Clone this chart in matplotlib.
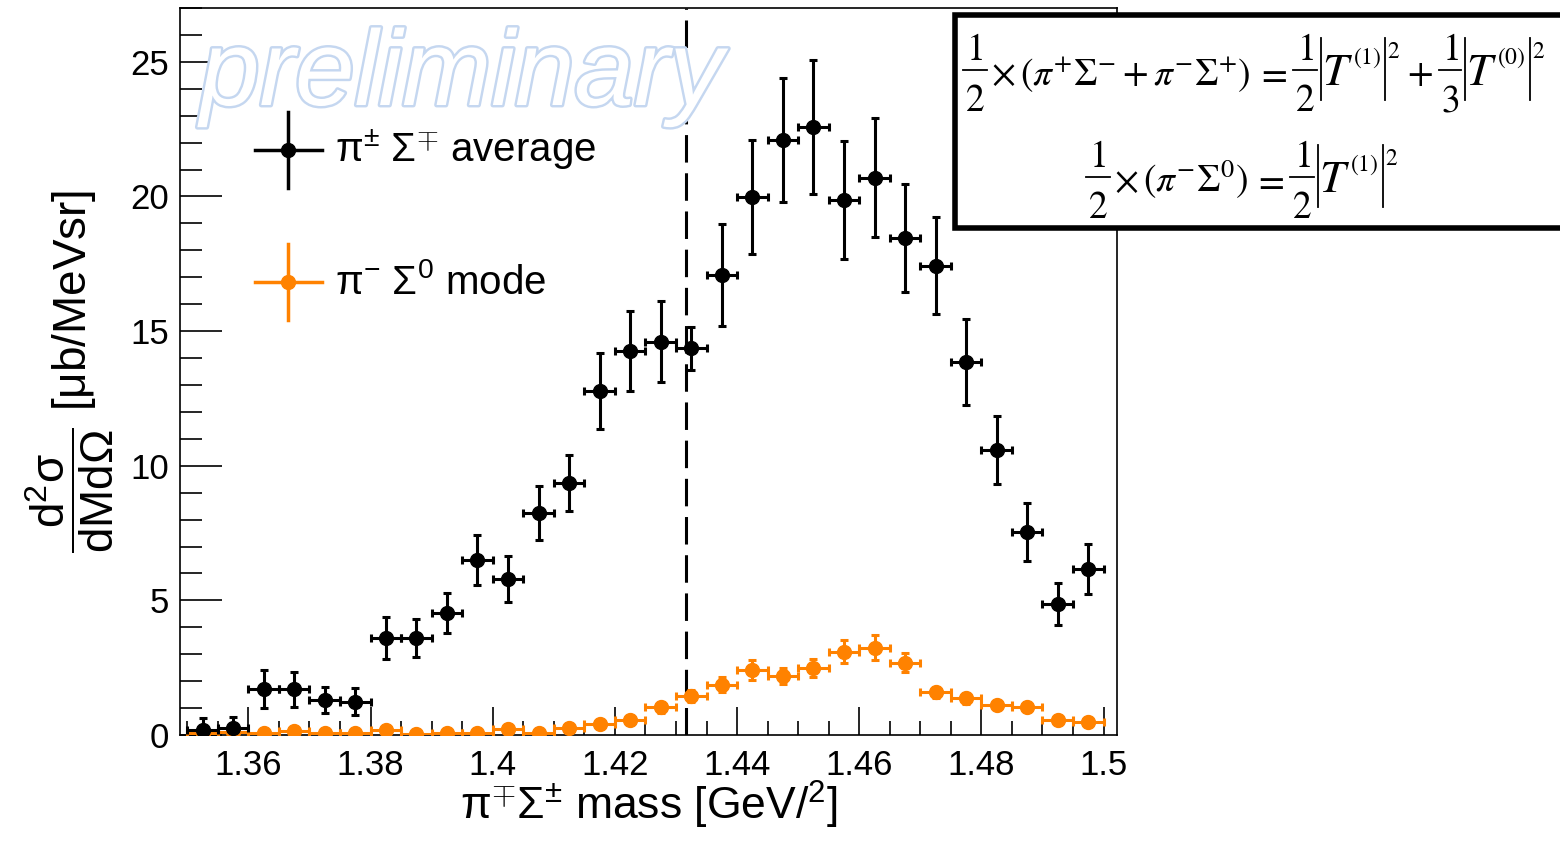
import matplotlib
matplotlib.use("Agg")
import matplotlib.pyplot as plt
import matplotlib.patheffects as pe
from matplotlib.patches import Rectangle
from matplotlib.ticker import MultipleLocator

plt.rcParams['font.family'] = ['Liberation Sans', 'DejaVu Sans']
plt.rcParams['mathtext.fontset'] = 'custom'
plt.rcParams['mathtext.rm'] = 'Liberation Sans'
plt.rcParams['mathtext.it'] = 'Liberation Sans:italic'
plt.rcParams['mathtext.bf'] = 'Liberation Sans:bold'

# ---- data ----
bin_centers = [1.3525, 1.3575, 1.3625, 1.3675, 1.3725, 1.3775, 1.3825, 1.3875, 1.3925, 1.3975,
               1.4025, 1.4075, 1.4125, 1.4175, 1.4225, 1.4275, 1.4325, 1.4375, 1.4425, 1.4475,
               1.4525, 1.4575, 1.4625, 1.4675, 1.4725, 1.4775, 1.4825, 1.4875, 1.4925, 1.4975]
bin_half_width = 0.0025

avg_values = [0.19, 0.25, 1.71, 1.70, 1.30, 1.24, 3.60, 3.60, 4.52, 6.50,
              5.80, 8.26, 9.36, 12.78, 14.26, 14.60, 14.37, 17.08, 19.98, 22.10,
              22.58, 19.87, 20.70, 18.46, 17.42, 13.86, 10.59, 7.55, 4.86, 6.15]
avg_errors = [0.45, 0.40, 0.70, 0.65, 0.50, 0.50, 0.78, 0.70, 0.75, 0.93,
              0.85, 1.00, 1.05, 1.40, 1.50, 1.50, 0.80, 1.90, 2.10, 2.30,
              2.50, 2.20, 2.20, 2.00, 1.80, 1.60, 1.25, 1.08, 0.78, 0.93]

s0_values = [0.07, 0.12, 0.07, 0.16, 0.07, 0.07, 0.19, 0.02, 0.07, 0.07,
             0.24, 0.09, 0.25, 0.41, 0.56, 1.03, 1.46, 1.86, 2.41, 2.20,
             2.50, 3.09, 3.24, 2.69, 1.59, 1.36, 1.11, 1.05, 0.56, 0.49]
s0_errors = [0.08, 0.08, 0.08, 0.08, 0.08, 0.08, 0.10, 0.08, 0.08, 0.08,
             0.12, 0.10, 0.12, 0.14, 0.16, 0.20, 0.22, 0.28, 0.37, 0.30,
             0.33, 0.43, 0.47, 0.35, 0.20, 0.20, 0.16, 0.16, 0.12, 0.10]

threshold = 1.4317

x_range = (1.3488, 1.5022)
y_range = (0, 27)
x_ticks = [1.36, 1.38, 1.40, 1.42, 1.44, 1.46, 1.48, 1.50]
x_tick_labels = ['1.36', '1.38', '1.4', '1.42', '1.44', '1.46', '1.48', '1.5']
y_ticks = [0, 5, 10, 15, 20, 25]

legend_labels = [r'$\mathrm{\pi^{\pm}\ \Sigma^{\mp}}$ average', r'$\mathrm{\pi^{-}\ \Sigma^{0}}$ mode']
ORANGE = '#ff8200'

fig = plt.figure(figsize=(15.6, 8.43), dpi=100)
W, H = 1560, 843
ax = fig.add_axes([180 / W, 108 / H, 937 / W, 727 / H])

xerr = [bin_half_width] * len(bin_centers)
ax.errorbar(bin_centers, s0_values, yerr=s0_errors, xerr=xerr, fmt='o', color=ORANGE,
            ms=10, elinewidth=2.2, capsize=3, capthick=2.2, zorder=3)
ax.errorbar(bin_centers, avg_values, yerr=avg_errors, xerr=xerr, fmt='o', color='black',
            ms=10, elinewidth=2.2, capsize=3, capthick=2.2, zorder=4)

ax.axvline(threshold, color='black', lw=2.2, linestyle=(0, (9, 3.5)), zorder=2)

ax.set_xlim(*x_range)
ax.set_ylim(*y_range)
ax.set_xticks(x_ticks)
ax.set_xticklabels(x_tick_labels)
ax.set_yticks(y_ticks)
ax.xaxis.set_minor_locator(MultipleLocator(0.005))
ax.yaxis.set_minor_locator(MultipleLocator(1))
ax.tick_params(axis='both', which='both', direction='in', top=False, right=False,
               labelsize=25, width=1.2)
ax.tick_params(axis='x', which='major', length=20, pad=10)
ax.tick_params(axis='x', which='minor', length=10)
ax.tick_params(axis='y', which='major', length=30, pad=8)
ax.tick_params(axis='y', which='minor', length=16)
for s in ax.spines.values():
    s.set_linewidth(1.2)

ax.set_xlabel(r'$\mathrm{\pi^{\mp}\Sigma^{\pm}}$ mass [GeV/$\mathrm{^{2}}$]', fontsize=32, labelpad=-2)
ax.set_ylabel(r'$\dfrac{\mathrm{d^{2}\sigma}}{\mathrm{dMd\Omega}}$ [μb/MeVsr]', fontsize=33, labelpad=10)

# legend (manual, ROOT style)
for (cy, col, lab) in [(150, 'black', legend_labels[0]), (282, ORANGE, legend_labels[1])]:
    fy = 1 - cy / H
    fig.add_artist(plt.Line2D([255 / W, 322 / W], [fy, fy], color=col, lw=2.5,
                              transform=fig.transFigure))
    fig.add_artist(plt.Line2D([288 / W, 288 / W], [fy - 38 / H, fy + 38 / H], color=col, lw=2.5,
                              transform=fig.transFigure))
    fig.add_artist(plt.Line2D([288 / W], [fy], color=col, marker='o', ms=10,
                              transform=fig.transFigure))
    fig.text(335 / W, fy, lab, fontsize=29, va='center', ha='left')

# watermark
fig.text(200 / W, 1 - 105 / H, 'preliminary', fontsize=77, style='italic', color='white',
         ha='left', va='baseline', zorder=10,
         path_effects=[pe.withStroke(linewidth=3.5, foreground='#c5d7f0')])

# equation box
fig.add_artist(Rectangle((955 / W, 1 - 228 / H), 0.45, (228 - 15) / H, fill=True,
                         facecolor='white', edgecolor='black', lw=4,
                         transform=fig.transFigure, clip_on=False, zorder=20))

R = fig.canvas.get_renderer()
FS_MAIN, FS_T, FS_SUP = 27, 33, 17


def put(x, base, s, fs, dy=0, ha='left'):
    t = fig.text(x / W, 1 - (base - dy) / H, s, fontsize=fs, math_fontfamily='stix',
                 ha=ha, va='baseline', zorder=21)
    bb = t.get_window_extent(R)
    return t, bb.x1, bb.width


def frac(x, base, num, den):
    tn, _, wn = put(0, base, num, FS_MAIN, dy=25, ha='center')
    td, _, wd = put(0, base, den, FS_MAIN, dy=-26, ha='center')
    w = max(wn, wd) + 6
    tn.set_x((x + w / 2) / W)
    td.set_x((x + w / 2) / W)
    yb = 1 - (base - 15) / H
    fig.add_artist(plt.Line2D([(x + 1) / W, (x + w - 1) / W], [yb, yb], color='black', lw=1.3,
                              transform=fig.transFigure, zorder=21))
    return x + w


def bar(x, base):
    fig.add_artist(plt.Line2D([x / W, x / W], [1 - (base + 15) / H, 1 - (base - 47) / H],
                              color='black', lw=1.3, transform=fig.transFigure, zorder=21))
    return x


def absT(x, base, idx):
    x = bar(x + 3, base)
    _, x, _ = put(x + 1, base, r'$T$', FS_T)
    _, x, _ = put(x, base, r'$(%s)$' % idx, FS_SUP, dy=21)
    x = bar(x + 4, base)
    _, x, _ = put(x + 2, base, r'$2$', FS_SUP, dy=27)
    return x


# line 1
b1 = 85
x = frac(962, b1, r'$1$', r'$2$')
_, x, _ = put(x + 3, b1, r'$\times$', FS_MAIN)
_, x, _ = put(x + 5, b1, r'$(\pi^{+}\Sigma^{-}+\pi^{-}\Sigma^{+})$', FS_MAIN)
_, x, _ = put(x + 5, b1, r'$=$', FS_MAIN)
x = frac(x + 5, b1, r'$1$', r'$2$')
x = absT(x, b1, '1')
_, x, _ = put(x + 7, b1, r'$+$', FS_MAIN)
x = frac(x + 5, b1, r'$1$', r'$3$')
x = absT(x, b1, '0')

# line 2
b2 = 192
x = frac(1085, b2, r'$1$', r'$2$')
_, x, _ = put(x + 3, b2, r'$\times$', FS_MAIN)
_, x, _ = put(x + 5, b2, r'$(\pi^{-}\Sigma^{0})$', FS_MAIN)
_, x, _ = put(x + 5, b2, r'$=$', FS_MAIN)
x = frac(x + 5, b2, r'$1$', r'$2$')
x = absT(x, b2, '1')

fig.savefig('out.png', dpi=100)
